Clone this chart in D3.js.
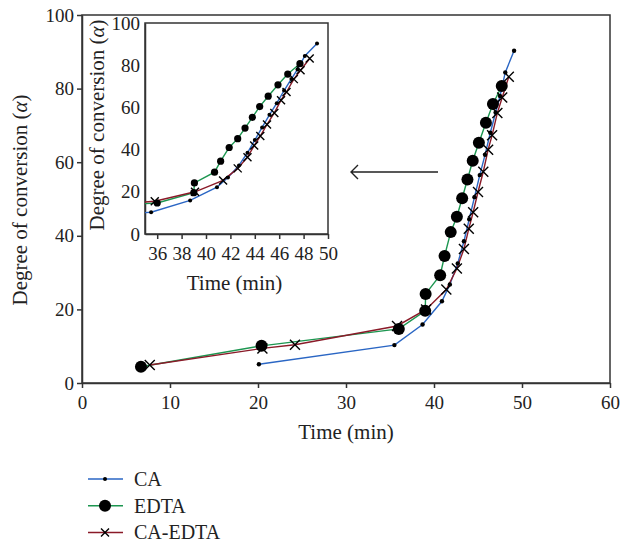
<!DOCTYPE html>
<html>
<head>
<meta charset="utf-8">
<script src="https://cdn.jsdelivr.net/npm/d3@7"></script>
<style>
  body { margin: 0; background: #fff; }
  svg { font-family: "Liberation Serif", "Times New Roman", serif; }
  .axis path, .axis line { stroke: #333; stroke-width: 1.5; }
  .axis text { font-size: 19px; fill: #222; font-family: "Liberation Serif", serif; }
</style>
</head>
<body>
<svg id="chart" width="621" height="539"></svg>
<script>
// time (min) / degree of conversion
var caTime = [20.1, 35.5, 38.7, 40.9, 41.8, 42.7, 43.4, 44.0, 44.6, 45.2, 45.8, 46.4, 47.0, 47.5, 48.1, 49.1];
var caConv = [5.1, 10.3, 15.9, 22.2, 26.8, 32.5, 38.5, 44.5, 50.5, 56.5, 62.0, 68.0, 73.5, 78.0, 84.4, 90.3];

var edtaTime = [6.7, 20.4, 36.0, 39.0, 39.05, 40.7, 41.2, 41.9, 42.6, 43.2, 43.8, 44.4, 45.1, 45.9, 46.7, 47.7];
var edtaConv = [4.4, 10.1, 14.7, 19.6, 24.2, 29.3, 34.5, 41.0, 45.2, 50.2, 55.3, 60.4, 65.3, 70.7, 75.8, 80.7];

var caEdtaTime = [7.7, 20.5, 24.2, 35.8, 39.1, 41.4, 42.6, 43.4, 43.95, 44.45, 45.0, 45.6, 46.15, 46.6, 47.2, 47.75, 48.5];
var caEdtaConv = [4.9, 9.4, 10.4, 15.5, 20.0, 25.4, 31.1, 36.4, 41.9, 46.4, 51.9, 57.4, 63.4, 67.3, 73.4, 77.6, 83.2];

var mainXTicks = [0, 10, 20, 30, 40, 50, 60];
var insetXTicks = [36, 38, 40, 42, 44, 46, 48, 50];
var yTicks = [0, 20, 40, 60, 80, 100];

var seriesNames = ['CA', 'EDTA', 'CA-EDTA'];
var seriesColors = ['#2a66c4', '#1c9650', '#8a1a28'];

function zip(t, a) {
    return t.map(function(d, i) { return { t: d, a: a[i] }; });
}

var series = [
    { name: seriesNames[0], color: seriesColors[0], marker: 'small', data: zip(caTime, caConv) },
    { name: seriesNames[1], color: seriesColors[1], marker: 'big', data: zip(edtaTime, edtaConv) },
    { name: seriesNames[2], color: seriesColors[2], marker: 'cross', data: zip(caEdtaTime, caEdtaConv) }
];

var svg = d3.select('#chart');

// draws one marker at 0,0 of a group
function drawMarker(g, kind, big) {
    if (kind == 'small') {
        g.append('circle').attr('r', big ? 2.2 : 2).attr('fill', '#000');
    } else if (kind == 'big') {
        g.append('circle').attr('r', big ? 6 : 3.6).attr('fill', '#000');
    } else {
        var s = big ? 5 : 4;
        g.append('path')
            .attr('d', 'M' + (-s) + ',' + (-s) + 'L' + s + ',' + s + 'M' + (-s) + ',' + s + 'L' + s + ',' + (-s))
            .attr('stroke', '#000').attr('stroke-width', 1.4).attr('fill', 'none');
    }
}

function drawPanel(opt) {
    var x = d3.scaleLinear().domain(opt.xdom).range([opt.left, opt.right]);
    var y = d3.scaleLinear().domain([0, 100]).range([opt.bottom, opt.top]);
    var root = svg.append('g').attr('class', opt.id);

    root.append('rect')
        .attr('x', opt.left).attr('y', opt.top)
        .attr('width', opt.right - opt.left).attr('height', opt.bottom - opt.top)
        .attr('fill', '#fff').attr('stroke', '#333').attr('stroke-width', 1.5);

    root.append('clipPath').attr('id', 'clip-' + opt.id)
        .append('rect')
        .attr('x', opt.left).attr('y', opt.top - 10)
        .attr('width', opt.right - opt.left).attr('height', opt.bottom - opt.top + 10);

    var xa = root.append('g').attr('class', 'axis')
        .attr('transform', 'translate(0,' + opt.bottom + ')')
        .call(d3.axisBottom(x).tickValues(opt.xticks).tickSize(5).tickSizeOuter(0).tickFormat(d3.format('d')));
    xa.attr('font-family', null).attr('font-size', null);
    xa.selectAll('text').attr('dy', '0.95em');

    var ya = root.append('g').attr('class', 'axis')
        .attr('transform', 'translate(' + opt.left + ',0)')
        .call(d3.axisLeft(y).tickValues(yTicks).tickSize(opt.ytick).tickSizeOuter(0));
    ya.attr('font-family', null).attr('font-size', null);
    ya.selectAll('text').attr('dx', opt.ytick ? '0' : '-0.1em');

    var plot = root.append('g').attr('clip-path', 'url(#clip-' + opt.id + ')');
    var line = d3.line().x(function(d) { return x(d.t); }).y(function(d) { return y(d.a); });

    series.forEach(function(s) {
        plot.append('path').datum(s.data)
            .attr('d', line)
            .attr('fill', 'none')
            .attr('stroke', s.color)
            .attr('stroke-width', 1.4);
    });
    series.forEach(function(s) {
        plot.selectAll('g.m-' + s.marker).data(s.data).enter()
            .append('g')
            .attr('transform', function(d) { return 'translate(' + x(d.t) + ',' + y(d.a) + ')'; })
            .each(function() { drawMarker(d3.select(this), s.marker, opt.big); });
    });

    root.append('text')
        .attr('x', (opt.left + opt.right) / 2 + opt.xlabDx).attr('y', opt.xlabY)
        .attr('text-anchor', 'middle').attr('font-size', 21).attr('fill', '#222')
        .text('Time (min)');

    var yl = root.append('text')
        .attr('transform', 'translate(' + opt.ylabX + ',' + opt.ylabY + ') rotate(-90)')
        .attr('text-anchor', 'middle').attr('font-size', 21).attr('fill', '#222');
    yl.append('tspan').text('Degree of conversion (');
    yl.append('tspan').attr('font-style', 'italic').text('α');
    yl.append('tspan').text(')');
}

drawPanel({
    id: 'main', xdom: [0, 60], left: 82, right: 610, top: 15, bottom: 383,
    xticks: mainXTicks, ytick: 5, big: true,
    xlabY: 439, xlabDx: 0, ylabX: 27, ylabY: 200
});

drawPanel({
    id: 'inset', xdom: [35, 50], left: 145, right: 328, top: 23, bottom: 234,
    xticks: insetXTicks, ytick: 0, big: false,
    xlabY: 290, xlabDx: -2, ylabX: 104, ylabY: 125
});

// arrow pointing at the inset
svg.append('path')
    .attr('d', 'M438,172L351,172M358,165L351,172L358,179')
    .attr('fill', 'none').attr('stroke', '#222').attr('stroke-width', 1.4);

// legend
var legend = svg.append('g').attr('class', 'legend');
series.forEach(function(s, i) {
    var ly = 479 + i * 26.7;
    var g = legend.append('g').attr('transform', 'translate(0,' + ly + ')');
    g.append('line').attr('x1', 88).attr('x2', 123).attr('stroke', s.color).attr('stroke-width', 1.5);
    var m = g.append('g').attr('transform', 'translate(105,0)');
    drawMarker(m, s.marker, s.marker == 'big');
    g.append('text').attr('x', 134).attr('y', 7).attr('font-size', 20).attr('fill', '#222').text(s.name);
});
</script>
</body>
</html>
